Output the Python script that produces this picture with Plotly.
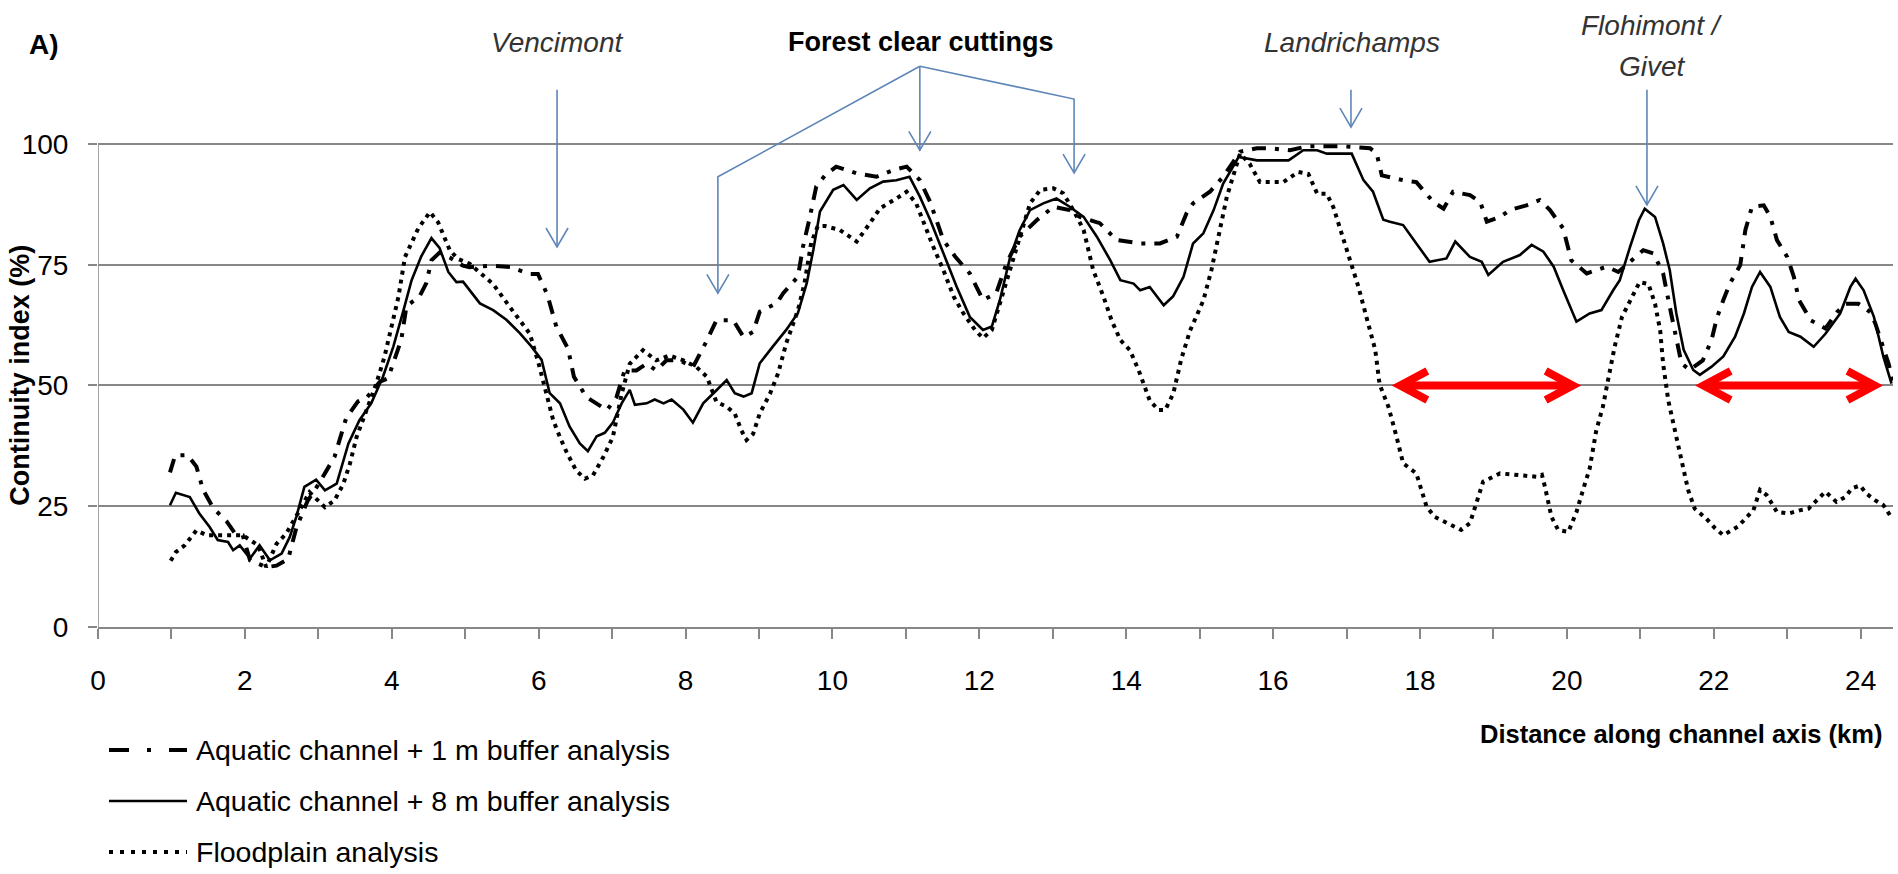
import plotly.graph_objects as go

# ---- series: continuity index (%) along the channel axis (km) ----
buffer_1m = [
    (0.98, 32.0), (1.05, 35.5), (1.22, 35.6), (1.34, 33.2), (1.43, 28.4), (1.57, 24.6),
    (1.75, 21.9), (1.86, 19.5), (1.97, 19.0), (2.07, 13.8), (2.18, 13.1), (2.29, 12.4),
    (2.43, 12.7), (2.59, 14.1), (2.70, 20.5), (2.85, 26.0), (3.00, 29.5), (3.09, 31.8),
    (3.22, 35.2), (3.38, 43.3), (3.54, 46.7), (3.66, 47.5), (3.84, 50.8), (3.95, 51.5),
    (4.13, 59.5), (4.20, 66.4), (4.38, 68.5), (4.47, 71.2), (4.54, 75.9), (4.65, 77.5),
    (4.79, 76.5), (4.97, 74.8), (5.06, 74.5), (5.38, 74.8), (5.62, 74.5), (5.87, 73.1),
    (5.99, 73.1), (6.12, 68.7), (6.24, 62.2), (6.40, 57.6), (6.48, 51.8), (6.65, 47.6),
    (6.93, 44.9), (7.06, 47.6), (7.17, 53.1), (7.33, 53.1), (7.47, 54.5), (7.60, 53.1),
    (7.74, 55.2), (7.92, 55.2), (8.10, 53.8), (8.29, 59.3), (8.42, 63.5), (8.65, 63.5),
    (8.79, 60.0), (8.92, 61.1), (9.01, 65.3), (9.24, 67.0), (9.33, 69.1), (9.53, 72.5),
    (9.60, 78.8), (9.69, 84.7), (9.78, 91.2), (9.90, 93.5), (10.05, 95.3), (10.33, 93.9),
    (10.60, 93.2), (10.83, 94.6), (11.01, 95.3), (11.19, 92.5), (11.33, 88.0), (11.51, 80.1),
    (11.67, 76.7), (11.87, 73.2), (12.05, 67.7), (12.23, 69.1), (12.37, 75.3), (12.55, 80.8),
    (12.78, 84.2), (13.01, 87.0), (13.23, 86.3), (13.37, 84.9), (13.64, 83.6), (13.87, 80.1),
    (14.19, 79.4), (14.46, 79.4), (14.69, 80.8), (14.82, 85.6), (14.91, 87.7), (15.14, 90.1),
    (15.32, 93.2), (15.55, 98.4), (15.78, 99.1), (15.96, 99.1), (16.23, 98.7), (16.46, 99.5),
    (16.68, 99.5), (16.96, 99.5), (17.32, 99.1), (17.41, 98.0), (17.48, 93.5), (17.77, 92.5),
    (17.95, 92.1), (18.18, 88.0), (18.32, 86.6), (18.45, 90.1), (18.68, 89.4), (18.82, 88.0),
    (18.91, 83.9), (19.09, 84.9), (19.22, 86.3), (19.45, 87.3), (19.63, 88.4), (19.77, 86.3),
    (19.95, 82.5), (20.06, 75.9), (20.27, 73.2), (20.54, 74.6), (20.70, 73.5), (21.04, 78.0),
    (21.18, 77.3), (21.31, 73.2), (21.40, 66.3), (21.49, 60.1), (21.56, 54.6), (21.67, 53.2),
    (21.85, 55.2), (21.97, 59.4), (22.04, 63.9), (22.13, 67.7), (22.22, 71.1), (22.36, 74.9),
    (22.43, 82.2), (22.52, 87.0), (22.68, 87.3), (22.77, 84.9), (22.86, 80.1), (23.00, 76.6),
    (23.09, 72.5), (23.16, 67.7), (23.32, 63.5), (23.52, 61.8), (23.68, 65.2), (23.79, 66.9),
    (23.97, 66.9), (24.13, 65.2), (24.20, 62.8), (24.38, 54.5), (24.45, 50.4),
]

buffer_8m = [
    (0.98, 25.2), (1.06, 27.8), (1.25, 26.9), (1.38, 23.5), (1.52, 20.7), (1.63, 18.0),
    (1.77, 17.6), (1.84, 15.9), (1.93, 16.9), (2.07, 14.2), (2.20, 16.9), (2.34, 13.8),
    (2.50, 15.2), (2.61, 18.6), (2.70, 22.8), (2.81, 29.0), (2.97, 30.5), (3.09, 28.3),
    (3.25, 29.7), (3.41, 38.0), (3.56, 42.8), (3.72, 46.3), (3.88, 51.8), (4.02, 58.0),
    (4.16, 65.6), (4.27, 71.8), (4.40, 76.7), (4.54, 80.5), (4.65, 78.5), (4.77, 73.5),
    (4.88, 71.4), (4.97, 71.5), (5.20, 67.0), (5.38, 65.6), (5.56, 63.6), (5.74, 60.9),
    (5.90, 58.1), (6.04, 55.3), (6.15, 48.4), (6.29, 46.3), (6.42, 41.5), (6.56, 38.0),
    (6.67, 36.4), (6.79, 39.5), (6.90, 40.2), (7.01, 42.3), (7.13, 46.3), (7.24, 49.1),
    (7.31, 46.0), (7.47, 46.3), (7.58, 47.1), (7.70, 46.3), (7.81, 47.1), (7.97, 45.0),
    (8.10, 42.3), (8.24, 46.3), (8.38, 48.4), (8.56, 51.1), (8.67, 48.4), (8.79, 47.7),
    (8.90, 48.4), (9.01, 54.6), (9.19, 58.1), (9.37, 61.5), (9.53, 65.0), (9.65, 71.2),
    (9.74, 78.1), (9.83, 86.0), (10.01, 90.5), (10.15, 91.5), (10.33, 88.4), (10.51, 90.8),
    (10.69, 92.2), (10.87, 92.5), (11.05, 93.2), (11.19, 89.1), (11.33, 84.3), (11.51, 77.4),
    (11.69, 70.5), (11.87, 64.2), (12.05, 61.5), (12.17, 62.2), (12.28, 67.7), (12.42, 76.6),
    (12.55, 82.2), (12.69, 86.3), (12.87, 87.7), (13.05, 88.7), (13.23, 87.0), (13.42, 84.9),
    (13.60, 80.8), (13.78, 76.0), (13.92, 71.8), (14.10, 71.1), (14.19, 69.7), (14.32, 70.4),
    (14.51, 66.6), (14.64, 68.5), (14.78, 72.5), (14.91, 79.4), (15.05, 81.5), (15.19, 86.3),
    (15.32, 91.8), (15.53, 97.3), (15.78, 96.6), (16.21, 96.6), (16.41, 98.7), (16.60, 98.7),
    (16.73, 98.0), (17.07, 98.0), (17.23, 92.5), (17.36, 90.1), (17.50, 84.3), (17.59, 83.9),
    (17.77, 83.2), (17.95, 79.4), (18.13, 75.6), (18.36, 76.3), (18.48, 79.8), (18.68, 76.6),
    (18.84, 75.6), (18.93, 72.9), (19.13, 75.6), (19.36, 77.0), (19.52, 79.1), (19.68, 77.7),
    (19.82, 74.6), (19.95, 69.7), (20.13, 63.2), (20.31, 64.9), (20.47, 65.6), (20.63, 69.7),
    (20.72, 71.8), (20.86, 78.7), (20.98, 84.2), (21.06, 86.6), (21.20, 84.9), (21.31, 79.4),
    (21.40, 73.9), (21.49, 64.9), (21.59, 57.4), (21.72, 53.2), (21.81, 52.2), (21.97, 53.9),
    (22.13, 56.0), (22.29, 60.1), (22.41, 64.9), (22.52, 70.4), (22.63, 73.5), (22.77, 70.4),
    (22.90, 64.2), (23.02, 61.1), (23.18, 60.1), (23.36, 58.0), (23.52, 60.7), (23.72, 64.9),
    (23.86, 70.4), (23.93, 72.1), (24.04, 69.7), (24.18, 64.2), (24.31, 55.9), (24.42, 50.4),
]

floodplain = [
    (0.99, 13.7), (1.06, 15.5), (1.18, 16.9), (1.34, 20.0), (1.48, 19.0), (1.70, 19.0),
    (1.97, 19.0), (2.18, 16.9), (2.29, 12.4), (2.43, 17.2), (2.56, 19.3), (2.72, 23.5),
    (2.88, 27.9), (3.09, 24.8), (3.22, 26.2), (3.34, 29.6), (3.43, 33.8), (3.52, 39.3),
    (3.66, 44.8), (3.79, 50.4), (3.90, 55.9), (3.99, 61.4), (4.09, 68.3), (4.18, 76.6),
    (4.36, 82.5), (4.52, 85.9), (4.63, 83.8), (4.79, 78.0), (4.90, 76.2), (5.06, 75.2),
    (5.38, 71.0), (5.61, 66.2), (5.88, 60.7), (6.00, 54.5), (6.11, 48.3), (6.20, 42.7),
    (6.29, 39.3), (6.38, 36.2), (6.51, 32.4), (6.63, 30.7), (6.74, 31.4), (6.88, 35.2),
    (7.01, 39.3), (7.13, 48.3), (7.24, 54.5), (7.42, 57.3), (7.60, 55.2), (7.78, 56.2),
    (7.97, 55.2), (8.15, 53.8), (8.29, 51.8), (8.42, 46.6), (8.56, 45.6), (8.67, 44.2),
    (8.76, 40.7), (8.83, 38.7), (8.92, 40.0), (9.01, 44.2), (9.15, 48.3), (9.26, 52.5),
    (9.37, 58.7), (9.46, 62.9), (9.53, 65.6), (9.62, 71.2), (9.71, 79.5), (9.80, 83.0),
    (9.90, 83.0), (10.10, 82.2), (10.33, 79.8), (10.51, 83.6), (10.65, 86.7), (10.87, 88.7),
    (11.01, 90.1), (11.14, 87.7), (11.26, 82.9), (11.37, 78.8), (11.51, 73.9), (11.65, 68.4),
    (11.78, 65.0), (11.94, 61.5), (12.05, 59.8), (12.17, 61.5), (12.28, 67.0), (12.42, 73.9),
    (12.55, 80.8), (12.69, 87.7), (12.83, 90.5), (13.01, 90.8), (13.14, 89.8), (13.28, 86.3),
    (13.42, 82.2), (13.55, 73.9), (13.69, 68.4), (13.80, 63.5), (13.92, 59.4), (14.05, 57.3),
    (14.17, 53.1), (14.23, 50.4), (14.32, 46.9), (14.44, 44.9), (14.53, 44.9), (14.64, 48.3),
    (14.75, 55.5), (14.87, 61.4), (15.05, 67.6), (15.16, 73.9), (15.28, 82.2), (15.37, 89.1),
    (15.55, 98.0), (15.68, 95.9), (15.82, 92.1), (16.00, 92.1), (16.14, 92.1), (16.34, 94.2),
    (16.48, 93.8), (16.60, 89.7), (16.73, 89.7), (16.82, 86.9), (16.91, 82.5), (17.05, 76.3),
    (17.16, 70.5), (17.27, 64.2), (17.39, 57.4), (17.45, 50.2), (17.57, 45.6), (17.68, 39.4),
    (17.77, 33.9), (17.95, 31.8), (18.09, 24.9), (18.20, 22.8), (18.45, 20.8), (18.56, 20.1),
    (18.68, 21.5), (18.77, 25.6), (18.86, 30.1), (19.09, 31.8), (19.36, 31.5), (19.59, 31.1),
    (19.66, 31.5), (19.70, 29.1), (19.79, 22.8), (19.88, 20.1), (20.02, 19.7), (20.13, 23.8),
    (20.22, 28.4), (20.31, 32.8), (20.40, 40.7), (20.49, 45.6), (20.56, 51.1), (20.65, 58.0),
    (20.75, 64.2), (20.86, 67.6), (20.99, 71.4), (21.11, 71.0), (21.20, 66.9), (21.27, 61.4),
    (21.31, 54.5), (21.38, 46.9), (21.47, 40.7), (21.56, 33.8), (21.65, 28.4), (21.74, 24.5),
    (21.90, 22.4), (22.02, 20.4), (22.13, 19.0), (22.33, 20.8), (22.45, 22.8), (22.54, 24.2),
    (22.63, 28.4), (22.72, 27.3), (22.86, 23.8), (23.02, 23.5), (23.18, 24.2), (23.29, 24.5),
    (23.40, 26.2), (23.52, 28.0), (23.67, 25.9), (23.79, 26.9), (23.88, 28.7), (23.99, 29.3),
    (24.08, 27.6), (24.20, 26.2), (24.31, 25.2), (24.40, 23.1),
]

series_names = [
    "Aquatic channel + 1 m buffer analysis",
    "Aquatic channel + 8 m buffer analysis",
    "Floodplain analysis",
]

y_ticks = [0, 25, 50, 75, 100]
x_ticks = list(range(0, 25))
x_tick_text = [str(v) if v % 2 == 0 else "" for v in x_ticks]

# place names (km) and the km spans flagged in red
place_labels = [("Vencimont", 6.25), ("Landrichamps", 17.07)]
clearcut_km = [8.44, 11.19, 13.29]
red_spans = [(17.68, 20.13), (21.81, 24.24)]

FONT = "Liberation Sans, Arial, sans-serif"
GRID = "#878787"
BLUE = "#5f86b8"
RED = "#ff0000"

X_MAX = 24.44
Y_MAX = 129.8

# plot-area geometry in pixels (used to place paper-referenced items)
L, PW, PH = 98, 1795, 627


def px_x(px):
    return (px - L) / PW


def px_y(py):
    return (PH - py) / PH


# line styles for the three series
styles = [
    dict(color="black", width=4, dash="14px,9px,4px,9px"),
    dict(color="black", width=2.6, dash="solid"),
    dict(color="black", width=4, dash="4px,5px"),
]
legend_dash = ["20px,18px,4px,18px", "solid", "4px,7px"]

fig = go.Figure()
for pts, name, st in zip([buffer_1m, buffer_8m, floodplain], series_names, styles):
    xs, ys = zip(*pts)
    fig.add_trace(go.Scatter(x=list(xs), y=list(ys), mode="lines", name=name,
                             line=st, showlegend=False, hoverinfo="x+y+name"))

shapes = []
# y axis line (only up to 100)
shapes.append(dict(type="line", xref="x", yref="y", x0=0, x1=0, y0=0, y1=100,
                   line=dict(color=GRID, width=1.5)))


def blue_arrow(points):
    """Polyline ending in an open V arrowhead (points in data units)."""
    path = "M " + " L ".join(f"{x},{y}" for x, y in points)
    tx, ty = points[-1]
    hw, hh = 0.15, 3.9
    head = f"M {tx - hw},{ty + hh} L {tx},{ty} L {tx + hw},{ty + hh}"
    return [dict(type="path", xref="x", yref="y", path=path, line=dict(color=BLUE, width=1.6)),
            dict(type="path", xref="x", yref="y", path=head, line=dict(color=BLUE, width=1.6))]


shapes += blue_arrow([(6.25, 111.2), (6.25, 78.7)])
shapes += blue_arrow([(17.06, 111.2), (17.06, 103.5)])
shapes += blue_arrow([(21.09, 111.2), (21.09, 87.4)])
apex = (11.19, 116.1)
shapes += blue_arrow([apex, (clearcut_km[0], 93.2), (clearcut_km[0], 69.1)])
shapes += blue_arrow([apex, (clearcut_km[1], 98.7)])
shapes += blue_arrow([apex, (clearcut_km[2], 109.3), (clearcut_km[2], 94.0)])

# double-headed red arrows on the 50 % line
for a, b in red_spans:
    yv = 50
    dx, dy = 0.42, 3.0
    shapes.append(dict(type="line", xref="x", yref="y", x0=a + 0.05, x1=b - 0.05, y0=yv, y1=yv,
                       line=dict(color=RED, width=8)))
    shapes.append(dict(type="path", xref="x", yref="y",
                       path=f"M {a + dx},{yv + dy} L {a + 0.05},{yv} L {a + dx},{yv - dy}",
                       line=dict(color=RED, width=8)))
    shapes.append(dict(type="path", xref="x", yref="y",
                       path=f"M {b - dx},{yv + dy} L {b - 0.05},{yv} L {b - dx},{yv - dy}",
                       line=dict(color=RED, width=8)))

annotations = []
for name, km in place_labels:
    annotations.append(dict(x=km, y=121.1, xref="x", yref="y", text=f"<i>{name}</i>", showarrow=False,
                            xanchor="center", yanchor="middle",
                            font=dict(family=FONT, size=28, color="#333333")))
annotations.append(dict(x=21.16, y=124.6, xref="x", yref="y", text="<i>Flohimont /</i>", showarrow=False,
                        xanchor="center", yanchor="middle", font=dict(family=FONT, size=28, color="#333333")))
annotations.append(dict(x=21.16, y=116.0, xref="x", yref="y", text="<i>Givet</i>", showarrow=False,
                        xanchor="center", yanchor="middle", font=dict(family=FONT, size=28, color="#333333")))
annotations.append(dict(x=11.2, y=121.1, xref="x", yref="y", text="<b>Forest clear cuttings</b>",
                        showarrow=False, xanchor="center", yanchor="middle",
                        font=dict(family=FONT, size=27, color="black")))

# panel letter
annotations.append(dict(x=px_x(44), y=px_y(44), xref="paper", yref="paper", xanchor="center",
                        yanchor="middle", text="<b>A)</b>", showarrow=False,
                        font=dict(family=FONT, size=28, color="black")))

# axis titles
annotations.append(dict(x=px_x(1884), y=px_y(734), xref="paper", yref="paper",
                        xanchor="right", yanchor="middle", text="<b>Distance along channel axis (km)</b>",
                        showarrow=False, font=dict(family=FONT, size=25.5, color="black")))
annotations.append(dict(x=px_x(20), y=52.0, xref="paper", yref="y", textangle=-90,
                        xanchor="center", yanchor="middle",
                        text="<b>Continuity index (%)</b>", showarrow=False,
                        font=dict(family=FONT, size=27, color="black")))

# legend drawn below the plot
leg_rows = [750, 801, 852]
for name, dash, st, py in zip(series_names, legend_dash, styles, leg_rows):
    yp = px_y(py)
    shapes.append(dict(type="line", xref="paper", yref="paper",
                       x0=px_x(109), x1=px_x(187), y0=yp, y1=yp,
                       line=dict(color="black", width=st["width"], dash=dash)))
    annotations.append(dict(x=px_x(194), y=yp, xref="paper", yref="paper", xanchor="left",
                            yanchor="middle", text=name, showarrow=False,
                            font=dict(family=FONT, size=28.5, color="black")))

fig.update_layout(
    width=1898, height=874,
    margin=dict(l=L, r=1898 - L - PW, t=0, b=874 - PH, pad=0),
    paper_bgcolor="white", plot_bgcolor="white",
    shapes=shapes, annotations=annotations,
    showlegend=False,
    xaxis=dict(range=[0, X_MAX], tickvals=x_ticks, ticktext=x_tick_text, showgrid=False,
               zeroline=False, showline=True, linecolor=GRID, linewidth=1.5,
               ticks="outside", ticklen=10, tickwidth=1.5, tickcolor=GRID,
               tickfont=dict(family=FONT, size=28, color="black"), ticklabelstandoff=18),
    yaxis=dict(range=[0, Y_MAX], tickvals=y_ticks, showgrid=True, gridcolor=GRID, gridwidth=1.5,
               zeroline=False, showline=False, ticks="outside", ticklen=9, tickwidth=1.5,
               tickcolor=GRID, tickfont=dict(family=FONT, size=28, color="black"),
               ticklabelstandoff=14),
)

fig.write_html("out.html")
